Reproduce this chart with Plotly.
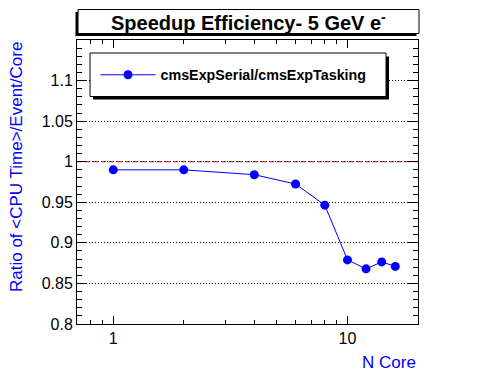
import plotly.graph_objects as go
import math

# ---- data ----
n_core = [1, 2, 4, 6, 8, 10, 12, 14, 16]
ratio = [0.990, 0.990, 0.984, 0.9725, 0.9465, 0.879, 0.868, 0.8765, 0.871]
series_name = "cmsExpSerial/cmsExpTasking"
reference_value = 1.0

y_tick_vals = [0.8, 0.85, 0.9, 0.95, 1.0, 1.05, 1.1]
y_tick_text = ["0.8", "0.85", "0.9", "0.95", "1", "1.05", "1.1"]
x_tick_vals = [1, 10]
x_tick_text = ["1", "10"]
x_minor_vals = [0.8, 0.9, 2, 3, 4, 5, 6, 7, 8, 9, 20]

title_text = "Speedup Efficiency- 5 GeV e<sup>-</sup>"
x_title = "N Core"
y_title = "Ratio of &lt;CPU Time&gt;/Event/Core"

BLUE = "#0000ff"
FONT = "Liberation Sans"

# page has an 8px body margin; figure is sized to fit inside the window
OFF = 8
W, H = 496 - OFF, 372 - OFF
L, R, T, B = 77 - OFF, 78, 40 - OFF, 48
PW, PH = W - L - R, H - T - B


def px_x(px):
    """page pixel x -> paper coordinate"""
    return (px - OFF - L) / PW


def px_y(py):
    """page pixel y -> paper coordinate"""
    return (H - B - (py - OFF)) / PH


fig = go.Figure()
fig.add_trace(go.Scatter(
    x=n_core, y=ratio, mode="lines+markers", name=series_name,
    line=dict(color=BLUE, width=1),
    marker=dict(color=BLUE, size=9, line=dict(width=0)),
))

shapes = [
    dict(type="line", xref="paper", yref="y", x0=0, x1=1, y0=reference_value, y1=reference_value,
         line=dict(color="white", width=1), layer="between"),
    dict(type="line", xref="paper", yref="y", x0=0, x1=1, y0=reference_value, y1=reference_value,
         line=dict(color="#e00000", width=1, dash="5px,3px"), layer="between"),
    dict(type="rect", xref="paper", yref="paper", x0=px_x(75.5), x1=px_x(416.5), y0=px_y(36), y1=px_y(12),
         fillcolor="black", line=dict(width=0), layer="above"),
    dict(type="rect", xref="paper", yref="paper", x0=px_x(78), x1=px_x(419), y0=px_y(33.5), y1=px_y(9.5),
         fillcolor="white", line=dict(color="black", width=1), layer="above"),
    dict(type="rect", xref="paper", yref="paper", x0=px_x(93), x1=px_x(389), y0=px_y(99.5), y1=px_y(56.5),
         fillcolor="black", line=dict(width=0), layer="above"),
    dict(type="rect", xref="paper", yref="paper", x0=px_x(90), x1=px_x(386), y0=px_y(96.5), y1=px_y(53),
         fillcolor="white", line=dict(color="black", width=1), layer="above"),
]

annotations = [
    dict(text=title_text, xref="paper", yref="paper", x=px_x(248.5), y=px_y(21.5),
         xanchor="center", yanchor="middle", showarrow=False,
         font=dict(family=FONT, size=20, color="black", weight="bold")),
    dict(text=x_title, xref="paper", yref="paper", x=1, y=px_y(362),
         xanchor="right", yanchor="middle", showarrow=False,
         font=dict(family=FONT, size=17, color=BLUE)),
    dict(text=y_title, xref="paper", yref="paper", x=px_x(16), y=1,
         xanchor="center", yanchor="top", textangle=-90, showarrow=False,
         font=dict(family=FONT, size=17, color=BLUE)),
]

fig.update_layout(
    width=W, height=H, autosize=False,
    margin=dict(l=L, r=R, t=T, b=B, pad=0),
    paper_bgcolor="white", plot_bgcolor="white",
    font=dict(family=FONT, size=16, color="black"),
    shapes=shapes, annotations=annotations,
    showlegend=True,
    legend=dict(x=px_x(95.5), y=px_y(75), xanchor="left", yanchor="middle",
                bgcolor="rgba(0,0,0,0)", borderwidth=0, itemwidth=55,
                font=dict(family=FONT, size=14.3, color="black", weight="bold")),
)

fig.update_xaxes(
    type="log", range=[math.log10(0.7), math.log10(20)],
    tickmode="array", tickvals=x_tick_vals, ticktext=x_tick_text,
    ticks="inside", ticklen=8, tickcolor="black", tickwidth=1,
    showline=True, linecolor="black", linewidth=1, mirror="ticks",
    showgrid=False, zeroline=False,
    minor=dict(tickmode="array", tickvals=x_minor_vals, ticks="inside", ticklen=4,
               tickcolor="black", showgrid=False),
    tickfont=dict(family=FONT, size=16, color="black"),
)
fig.update_yaxes(
    range=[0.8, 1.15],
    tickmode="array", tickvals=y_tick_vals, ticktext=y_tick_text,
    ticks="inside", ticklen=10, tickcolor="black", tickwidth=1,
    showline=True, linecolor="black", linewidth=1, mirror="ticks",
    showgrid=True, gridcolor="black", gridwidth=1, griddash="1px,2px",
    zeroline=False,
    minor=dict(dtick=0.01, tick0=0.8, ticks="inside", ticklen=5, tickcolor="black", showgrid=False),
    tickfont=dict(family=FONT, size=16, color="black"),
)

fig.write_html("out.html")
